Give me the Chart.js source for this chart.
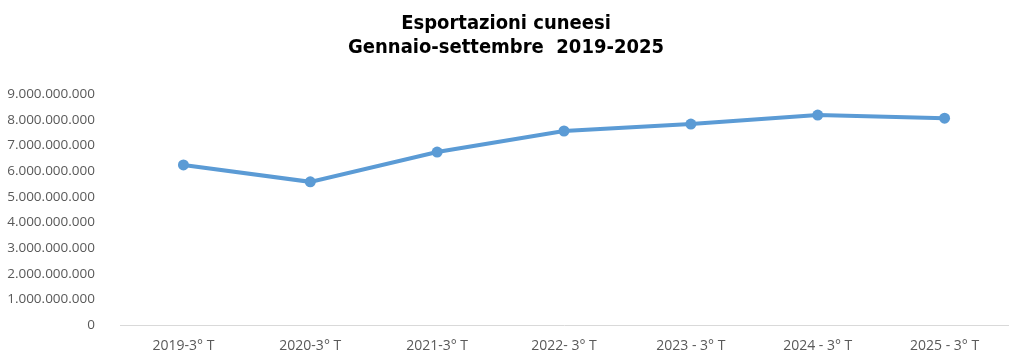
<!DOCTYPE html>
<html>
<head>
<meta charset="utf-8">
<script src="https://cdn.jsdelivr.net/npm/chart.js@4"></script>
<style>
  html, body { margin: 0; padding: 0; background: #fff; }
  #wrap { width: 1024px; height: 363px; }
</style>
</head>
<body>
<div id="wrap"><canvas id="grafico"></canvas></div>
<script>
// categorie (asse x)
const periodi = ['2019-3° T', '2020-3° T', '2021-3° T', '2022- 3° T', '2023 - 3° T', '2024 - 3° T', '2025 - 3° T'];
// valori esportazioni (euro)
const esportazioni = [6240000000, 5580000000, 6740000000, 7560000000, 7830000000, 8180000000, 8060000000];
const titolo = ['Esportazioni cuneesi', 'Gennaio-settembre  2019-2025'];

// formato italiano con i punti
const formatta = (v) => String(Math.round(v)).replace(/\B(?=(\d{3})+(?!\d))/g, '.');

const ctx = document.getElementById('grafico').getContext('2d');
new Chart(ctx, {
    type: 'line',
    data: {
        labels: periodi,
        datasets: [{
            data: esportazioni,
            borderColor: '#5b9bd5',
            backgroundColor: '#5b9bd5',
            borderWidth: 4,
            pointRadius: 5.5,
            pointBorderWidth: 0,
            pointHoverRadius: 5.5,
            tension: 0,
        }],
    },
    options: {
        responsive: true,
        maintainAspectRatio: false,
        animation: false,
        layout: { padding: { left: 4, right: 16, top: 6, bottom: 5 } },
        plugins: {
            legend: { display: false },
            tooltip: { enabled: false },
            title: {
                display: true,
                text: titolo,
                color: '#000',
                font: { family: 'DejaVu Sans Condensed', size: 20, weight: 'bold', lineHeight: 1.2 },
                padding: { top: 6, bottom: 34 },
            },
        },
        scales: {
            x: {
                offset: true,
                grid: { display: false },
                border: { display: true, color: '#d9d9d9', width: 1 },
                ticks: { color: '#595959', font: { family: 'Open Sans', size: 14 }, maxRotation: 0, padding: 4 },
            },
            y: {
                min: 0,
                max: 9000000000,
                grid: { display: false },
                border: { display: false },
                afterFit: (s) => { s.width = 116; },
                ticks: {
                    stepSize: 1000000000,
                    color: '#595959',
                    font: { family: 'Open Sans', size: 13.5 },
                    padding: 17,
                    callback: (v) => formatta(v),
                },
            },
        },
    },
});
</script>
</body>
</html>
